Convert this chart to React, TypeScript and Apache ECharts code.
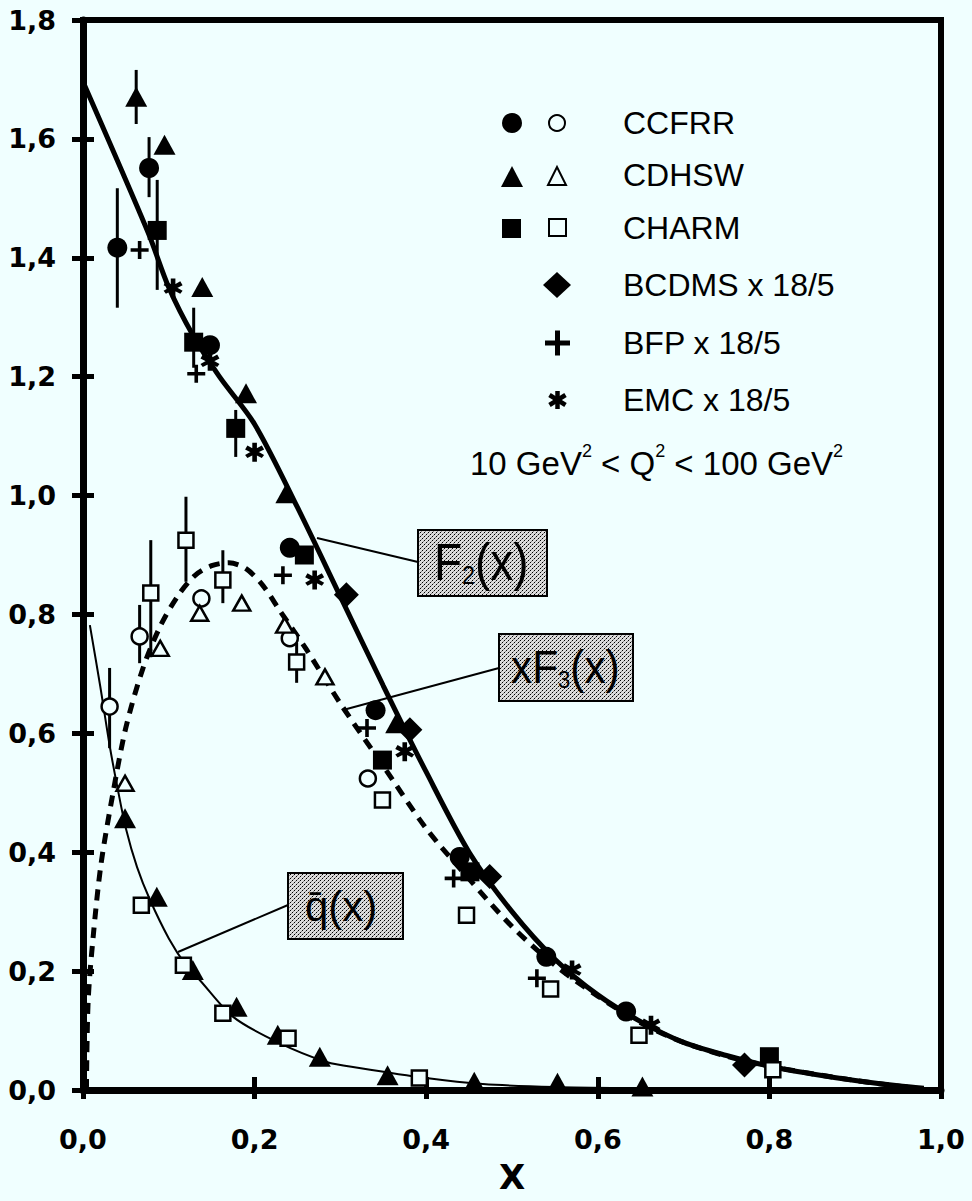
import React, { useEffect, useRef } from "react";
import * as echarts from "echarts";

const BG = "#f0ffff";
const FONT = "'Liberation Sans', Arial, sans-serif";
const AXFONT = "'DejaVu Sans', sans-serif";

// ---- curves ----
const f2X = [0, 0.076, 0.1, 0.128, 0.159, 0.2, 0.25, 0.3, 0.35, 0.4, 0.45, 0.5, 0.55, 0.6, 0.65, 0.7, 0.75, 0.8, 0.85, 0.9, 0.95, 0.98];
const f2Y = [1.696, 1.442, 1.35, 1.27, 1.2, 1.12, 0.98, 0.83, 0.68, 0.535, 0.40, 0.30, 0.22, 0.16, 0.115, 0.08, 0.058, 0.04, 0.027, 0.016, 0.007, 0.003];

const xf3X = [0.004, 0.006, 0.012, 0.021, 0.035, 0.05, 0.07, 0.09, 0.11, 0.13, 0.15, 0.17, 0.19, 0.21, 0.23, 0.26, 0.3, 0.35, 0.4, 0.45, 0.5, 0.55, 0.6, 0.65, 0.7, 0.75, 0.8, 0.9, 0.97];
const xf3Y = [0, 0.15, 0.26, 0.38, 0.5, 0.61, 0.71, 0.78, 0.83, 0.865, 0.882, 0.887, 0.877, 0.848, 0.805, 0.742, 0.65, 0.545, 0.44, 0.355, 0.275, 0.21, 0.158, 0.113, 0.08, 0.057, 0.04, 0.016, 0.003];

const qbarX = [0.008, 0.02, 0.031, 0.04, 0.05, 0.063, 0.078, 0.1, 0.12, 0.136, 0.175, 0.226, 0.284, 0.322, 0.4, 0.466, 0.55, 0.65, 0.8];
const qbarY = [0.782, 0.68, 0.58, 0.51, 0.44, 0.375, 0.32, 0.255, 0.21, 0.185, 0.123, 0.081, 0.047, 0.037, 0.02, 0.01, 0.005, 0.003, 0.001];

// ---- data points ----
const ccfrrFilled = [[0.040, 1.417], [0.077, 1.551], [0.148, 1.253], [0.241, 0.912], [0.341, 0.639], [0.439, 0.392], [0.540, 0.224], [0.633, 0.132]];
const cdhswFilled = [[0.062, 1.671], [0.095, 1.590], [0.139, 1.351], [0.190, 1.172], [0.237, 1.004], [0.365, 0.617], [0.457, 0.373],
  [0.049, 0.457], [0.086, 0.325], [0.128, 0.202], [0.179, 0.140], [0.227, 0.093], [0.276, 0.056], [0.355, 0.025], [0.456, 0.014], [0.553, 0.012], [0.652, 0.006]];
const charmFilled = [[0.0865, 1.446], [0.129, 1.258], [0.178, 1.113], [0.258, 0.900], [0.349, 0.555], [0.451, 0.367], [0.800, 0.056]];
const bcdms = [[0.307, 0.833], [0.381, 0.606], [0.474, 0.359], [0.771, 0.042]];
const bfp = [[0.066, 1.413], [0.132, 1.205], [0.233, 0.866], [0.331, 0.609], [0.432, 0.356], [0.529, 0.188]];
const emc = [[0.105, 1.349], [0.148, 1.226], [0.200, 1.073], [0.270, 0.858], [0.375, 0.569], [0.570, 0.202], [0.662, 0.109]];
const ccfrrOpen = [[0.031, 0.645], [0.066, 0.763], [0.138, 0.827], [0.241, 0.760], [0.332, 0.524]];
const cdhswOpen = [[0.049, 0.516], [0.090, 0.743], [0.136, 0.802], [0.185, 0.819], [0.235, 0.782], [0.282, 0.695]];
const charmOpen = [[0.079, 0.836], [0.120, 0.925], [0.163, 0.858], [0.249, 0.720], [0.349, 0.488], [0.447, 0.294], [0.545, 0.170], [0.648, 0.092], [0.804, 0.034],
  [0.068, 0.311], [0.117, 0.210], [0.163, 0.129], [0.239, 0.087], [0.392, 0.020]];

// error bars: [x, low, high]
const errorBars = [
  [0.040, 1.316, 1.517], [0.077, 1.502, 1.603], [0.062, 1.625, 1.716], [0.0865, 1.346, 1.531],
  [0.129, 1.215, 1.316], [0.178, 1.065, 1.144], [0.031, 0.575, 0.71], [0.066, 0.718, 0.816],
  [0.079, 0.728, 0.925], [0.120, 0.855, 0.998], [0.163, 0.819, 0.908], [0.249, 0.685, 0.752],
];

const xTicks = { min: 0, max: 1, interval: 0.2 };
const yTicks = { min: 0, max: 1.8, interval: 0.2 };

const legendNames = ["CCFRR", "CDHSW", "CHARM", "BCDMS x 18/5", "BFP x 18/5", "EMC x 18/5"];

const PLUS = "path://M4,0H6V4H10V6H6V10H4V6H0V4H4Z";
const STAR = "path://M3.8,0H6.2V10H3.8Z M1.27,8.04L0.07,6.46L8.73,1.46L9.93,3.54Z M0.07,3.54L1.27,1.46L9.93,6.46L8.73,8.04Z";

const fmt = (v: number) => v.toFixed(1).replace(".", ",");

function ln(x1: number, y1: number, x2: number, y2: number, w = 2) {
  return { type: "line", z: 20, shape: { x1, y1, x2, y2 }, style: { stroke: "#000", lineWidth: w } };
}

function richText(text: string, x: number, y: number, rich: any, scaleX = 1) {
  return {
    type: "text", x, y, scaleX, z: 21,
    style: { text, rich, fill: "#000", fontFamily: FONT, align: "left", textAlign: "left", verticalAlign: "middle", textVerticalAlign: "middle" },
  };
}
function txt(text: string, x: number, y: number, size: number) {
  return {
    type: "text", x, y, z: 21,
    style: { text, fill: "#000", fontSize: size, fontFamily: FONT, align: "left", textAlign: "left", verticalAlign: "middle", textVerticalAlign: "middle" },
  };
}

export default function App() {
  const ref = useRef<HTMLDivElement>(null);
  useEffect(() => {
    document.body.style.background = BG;
    const chart = echarts.init(ref.current!, null, { renderer: "svg" });

    // stippled fill for the label boxes
    let stipple: any = "#c4c4c4";
    try {
      const cv = document.createElement("canvas");
      cv.width = 4; cv.height = 4;
      const c = cv.getContext("2d");
      if (c) {
        c.fillStyle = "#dcdcdc"; c.fillRect(0, 0, 4, 4);
        c.fillStyle = "#000"; c.fillRect(0, 0, 1, 1); c.fillRect(2, 2, 1, 1);
        c.fillStyle = "#888"; c.fillRect(1, 3, 1, 1); c.fillRect(3, 1, 1, 1);
        stipple = { image: cv, repeat: "repeat", imageWidth: 4, imageHeight: 4 };
      }
    } catch (e) { /* keep solid */ }
    const box = (x: number, y: number, w: number, h: number) =>
      ({ type: "rect", z: 19, shape: { x, y, width: w, height: h }, style: { fill: stipple, stroke: "#000", lineWidth: 2 } });

    const filled = { color: "#000", opacity: 1 };
    const open = { color: BG, borderColor: "#000", borderWidth: 2.5, opacity: 1 };
    const rowsY = [123, 175, 228, 285, 343, 400];
    const graphics: any[] = [];
    // legend symbols
    graphics.push({ type: "circle", z: 20, shape: { cx: 512, cy: rowsY[0], r: 10 }, style: { fill: "#000" } });
    graphics.push({ type: "circle", z: 20, shape: { cx: 557, cy: rowsY[0], r: 8 }, style: { fill: BG, stroke: "#000", lineWidth: 2 } });
    graphics.push({ type: "polygon", z: 20, shape: { points: [[501, 187], [523, 187], [512, 166]] }, style: { fill: "#000" } });
    graphics.push({ type: "polygon", z: 20, shape: { points: [[548, 185], [566, 185], [557, 167]] }, style: { fill: BG, stroke: "#000", lineWidth: 2 } });
    graphics.push({ type: "rect", z: 20, shape: { x: 502, y: 219, width: 19, height: 19 }, style: { fill: "#000" } });
    graphics.push({ type: "rect", z: 20, shape: { x: 549, y: 219, width: 17, height: 17 }, style: { fill: BG, stroke: "#000", lineWidth: 2 } });
    graphics.push({ type: "polygon", z: 20, shape: { points: [[557, 272], [571, 285], [557, 298], [543, 285]] }, style: { fill: "#000" } });
    graphics.push({ type: "rect", z: 20, shape: { x: 545, y: 340.5, width: 25, height: 5 }, style: { fill: "#000" } });
    graphics.push({ type: "rect", z: 20, shape: { x: 555, y: 330.5, width: 5, height: 25 }, style: { fill: "#000" } });
    graphics.push(ln(557.5, 391, 557.5, 409, 4.5));
    graphics.push(ln(549.5, 395, 565.5, 405, 4.5));
    graphics.push(ln(549.5, 405, 565.5, 395, 4.5));
    legendNames.forEach((n, i) => graphics.push(txt(n, 623, rowsY[i], 32)));
    graphics.push(richText("{n|10 GeV}{s|2}{n| < Q}{s|2}{n| < 100 GeV}{s|2}", 470, 463, {
      n: { fontSize: 33, fontFamily: FONT, fill: "#000", color: "#000" },
      s: { fontSize: 18, fontFamily: FONT, fill: "#000", color: "#000", padding: [0, 0, 24, 0] },
    }));

    // curve labels
    graphics.push(ln(317, 538, 418, 562));
    graphics.push(box(418, 530, 129, 66));
    graphics.push(richText("{b|F}{s|2}{b|(x)}", 434, 562, {
      b: { fontSize: 51, fontFamily: FONT, fill: "#000", color: "#000" },
      s: { fontSize: 26, fontFamily: FONT, fill: "#000", color: "#000", padding: [26, 0, 0, 0] },
    }, 0.9));

    graphics.push(ln(343, 710, 499, 668));
    graphics.push(box(499, 634, 134, 67));
    graphics.push(richText("{b|xF}{s|3}{b|(x)}", 511, 667, {
      b: { fontSize: 46, fontFamily: FONT, fill: "#000", color: "#000" },
      s: { fontSize: 24, fontFamily: FONT, fill: "#000", color: "#000", padding: [26, 0, 0, 0] },
    }, 0.92));

    graphics.push(ln(178, 952, 288, 905));
    graphics.push(box(288, 873, 115, 66));
    graphics.push(txt("q\u0304(x)", 305, 906, 42));

    const axisLineStyle = { color: "#000", width: 7 };
    const tickStyle = { color: "#000", width: 5 };
    const labelStyle = { fontSize: 27, fontWeight: "bold", fontFamily: AXFONT, color: "#000", formatter: fmt };

    const option: any = {
      animation: false,
      backgroundColor: BG,
      grid: { left: 83, right: 31, top: 20, bottom: 111, show: true, borderColor: "#000", borderWidth: 6, backgroundColor: "transparent" },
      xAxis: [
        {
          type: "value", ...xTicks, position: "bottom",
          axisLine: { show: true, onZero: false, lineStyle: axisLineStyle },
          axisTick: { show: true, inside: true, length: 13, lineStyle: tickStyle },
          axisLabel: { ...labelStyle, margin: 36 },
          splitLine: { show: false },
          name: "X", nameLocation: "middle", nameGap: 70,
          nameTextStyle: { fontSize: 34, fontWeight: "bold", fontFamily: AXFONT, color: "#000" },
        },
        {
          type: "value", ...xTicks, position: "bottom",
          axisLine: { show: false }, axisTick: { show: true, inside: false, length: 9, lineStyle: tickStyle },
          axisLabel: { show: false }, splitLine: { show: false },
        },
      ],
      yAxis: [
        {
          type: "value", ...yTicks, position: "left",
          axisLine: { show: true, onZero: false, lineStyle: axisLineStyle },
          axisTick: { show: true, inside: true, length: 11, lineStyle: tickStyle },
          axisLabel: { ...labelStyle, margin: 27 },
          splitLine: { show: false },
        },
        {
          type: "value", ...yTicks, position: "left",
          axisLine: { show: false }, axisTick: { show: true, inside: false, length: 11, lineStyle: tickStyle },
          axisLabel: { show: false }, splitLine: { show: false },
        },
      ],
      graphic: graphics,
      series: [
        { type: "line", name: "F2(x)", data: f2X.map((x, i) => [x, f2Y[i]]), smooth: 0.3, symbol: "none", lineStyle: { color: "#000", width: 5 }, z: 2 },
        { type: "line", name: "xF3(x)", data: xf3X.map((x, i) => [x, xf3Y[i]]), smooth: 0.3, symbol: "none", lineStyle: { color: "#000", width: 5, type: [11, 8] }, z: 2 },
        { type: "line", name: "qbar(x)", data: qbarX.map((x, i) => [x, qbarY[i]]), smooth: 0.3, symbol: "none", lineStyle: { color: "#000", width: 2 }, z: 2 },
        {
          type: "custom", name: "errors", data: errorBars, z: 3, silent: true,
          encode: { x: 0, y: [1, 2] },
          renderItem: (_p: any, api: any) => {
            const a = api.coord([api.value(0), api.value(1)]);
            const b = api.coord([api.value(0), api.value(2)]);
            return { type: "line", shape: { x1: a[0], y1: a[1], x2: b[0], y2: b[1] }, style: { stroke: "#000", lineWidth: 3 } };
          },
        },
        { type: "scatter", name: "CCFRR", data: ccfrrFilled, symbol: "circle", symbolSize: 20, itemStyle: filled, z: 5 },
        { type: "scatter", name: "CDHSW", data: cdhswFilled, symbol: "triangle", symbolSize: [22, 20], itemStyle: filled, z: 5 },
        { type: "scatter", name: "CHARM", data: charmFilled, symbol: "rect", symbolSize: 19, itemStyle: filled, z: 5 },
        { type: "scatter", name: "BCDMS", data: bcdms, symbol: "diamond", symbolSize: 25, itemStyle: filled, z: 5 },
        { type: "scatter", name: "BFP", data: bfp, symbol: PLUS, symbolSize: 18, itemStyle: filled, z: 5 },
        { type: "scatter", name: "EMC", data: emc, symbol: STAR, symbolSize: 19, itemStyle: filled, z: 5 },
        { type: "scatter", name: "CCFRR open", data: ccfrrOpen, symbol: "circle", symbolSize: 16, itemStyle: open, z: 6 },
        { type: "scatter", name: "CDHSW open", data: cdhswOpen, symbol: "triangle", symbolSize: [17, 15], itemStyle: open, z: 6 },
        { type: "scatter", name: "CHARM open", data: charmOpen, symbol: "rect", symbolSize: 15, itemStyle: open, z: 6 },
      ],
    };
    chart.setOption(option);
    return () => chart.dispose();
  }, []);
  return <div ref={ref} style={{ position: "fixed", left: 0, top: 0, width: 972, height: 1201, background: BG }} />;
}
